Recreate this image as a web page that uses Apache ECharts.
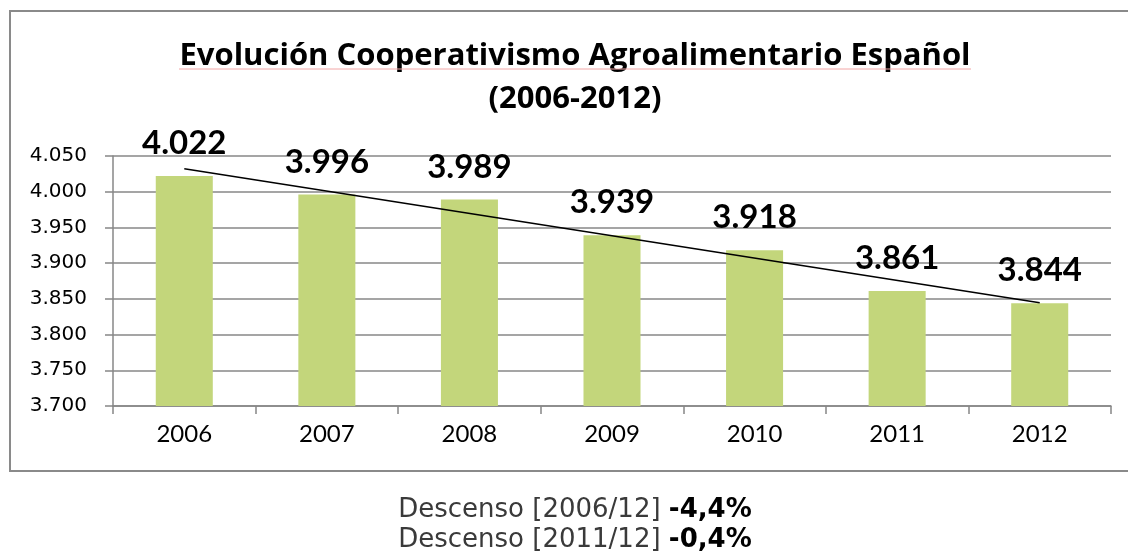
<!DOCTYPE html>
<html><head><meta charset="utf-8">
<script src="https://cdn.jsdelivr.net/npm/echarts@6/dist/echarts.min.js"></script>
<style>html,body{margin:0;padding:0;background:#fff}#c{width:1128px;height:552px}</style>
</head><body><div id="c"></div>
<script>
var years = ['2006','2007','2008','2009','2010','2011','2012'];
var cooperativas = [4022, 3996, 3989, 3939, 3918, 3861, 3844];
var trendValues = [4032.2, '-', '-', '-', '-', '-', 3844.7];
var yTicks = {min: 3700, max: 4050, interval: 50};
var titleLines = ['Evolución Cooperativismo Agroalimentario Español', '(2006-2012)'];
var notes = [['Descenso [2006/12] ', '-4,4%'], ['Descenso [2011/12] ', '-0,4%']];

function fmt(v){ var s = String(Math.round(v)); return s.length > 3 ? s.slice(0, s.length-3) + '.' + s.slice(-3) : s; }

var chart = echarts.init(document.getElementById('c'));
chart.setOption({
  animation: false,
  grid: {left: 113, right: 17, top: 156, bottom: 146},
  xAxis: {
    type: 'category', data: years,
    axisLine: {lineStyle: {color: '#878787', width: 1.5}},
    axisTick: {show: true, length: 8, lineStyle: {color: '#878787', width: 1.5}},
    axisLabel: {fontFamily: 'Lato', fontSize: 24, color: '#000', margin: 16}
  },
  yAxis: {
    type: 'value', min: yTicks.min, max: yTicks.max, interval: yTicks.interval,
    axisLine: {show: true, lineStyle: {color: '#878787', width: 1.5}},
    axisTick: {show: true, length: 8, lineStyle: {color: '#878787', width: 1.5}},
    splitLine: {lineStyle: {color: '#878787', width: 1.5}},
    axisLabel: {fontFamily: 'DejaVu Sans', fontSize: 20, color: '#000', margin: 26, formatter: fmt}
  },
  series: [{
    type: 'bar', data: cooperativas, barWidth: '40%',
    itemStyle: {color: '#c3d67b'},
    label: {
      show: true, position: 'top', distance: 16,
      fontFamily: 'Lato', fontWeight: 'bold', fontSize: 33, color: '#000',
      formatter: function(p){ return fmt(p.value); }
    }
  }, {
    type: 'line', data: trendValues, connectNulls: true, symbol: 'none',
    lineStyle: {color: '#000', width: 1.5}, z: 5, silent: true
  }],
  graphic: [
    {type: 'rect', shape: {x: 10, y: 11, width: 1130, height: 460}, style: {fill: 'none', stroke: '#8a8a8a', lineWidth: 2}, z: -10},
    {type: 'text', x: 575, y: 35, style: {
      text: titleLines.join('\n'), align: 'center', verticalAlign: 'top',
      fontFamily: 'Open Sans', fontWeight: 'bold', fontSize: 31, fill: '#000', lineHeight: 43
    }},
    {type: 'line', shape: {x1: 179, y1: 69, x2: 971, y2: 69}, style: {stroke: '#f2a6a6', lineWidth: 1}},
    {type: 'text', x: 575, y: 495, style: {
      text: notes.map(function(n){ return '{r|' + n[0] + '}{b|' + n[1] + '}'; }).join('\n'),
      align: 'center', verticalAlign: 'top',
      rich: {
        r: {fontFamily: 'DejaVu Sans', fontSize: 26, fill: '#3a3a3a', lineHeight: 30},
        b: {fontFamily: 'DejaVu Sans', fontWeight: 'bold', fontSize: 26, fill: '#000', lineHeight: 30}
      }
    }}
  ]
});
</script></body></html>
